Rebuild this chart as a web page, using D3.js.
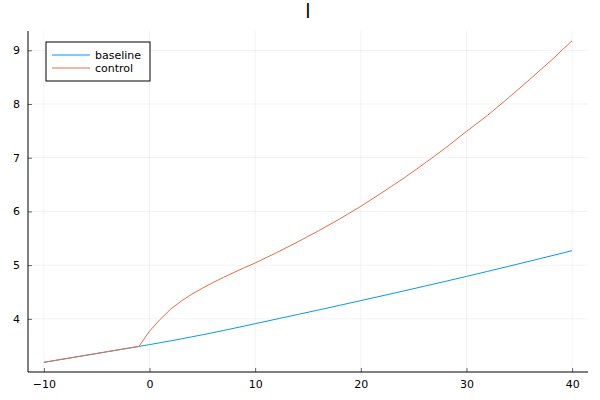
<!DOCTYPE html>
<html>
<head>
<meta charset="utf-8">
<script src="https://cdn.jsdelivr.net/npm/d3@7"></script>
<style>
  body { margin: 0; background: #fff; }
  svg text { font-family: "DejaVu Sans", sans-serif; fill: #000; }
</style>
</head>
<body>
<svg id="canvas" width="600" height="400"></svg>
<script>
// values
var xs = [-10, -8, -6, -4, -2, -1, 0, 1, 2, 3, 4, 5, 6, 7, 8, 9, 10, 12, 14, 16, 18, 20, 22, 24, 26, 28, 30, 32, 34, 36, 38, 40];
var baseline = [3.19, 3.256, 3.322, 3.388, 3.454, 3.487, 3.52, 3.555, 3.59, 3.627, 3.665, 3.703, 3.742, 3.783, 3.825, 3.867, 3.91, 3.995, 4.08, 4.165, 4.252, 4.34, 4.428, 4.517, 4.607, 4.698, 4.79, 4.884, 4.979, 5.075, 5.172, 5.27];
var control = [3.19, 3.256, 3.322, 3.388, 3.454, 3.487, 3.77, 3.99, 4.18, 4.33, 4.46, 4.57, 4.675, 4.772, 4.865, 4.953, 5.04, 5.23, 5.43, 5.64, 5.86, 6.095, 6.35, 6.61, 6.89, 7.18, 7.49, 7.79, 8.12, 8.46, 8.81, 9.18];
var xTicks = [-10, 0, 10, 20, 30, 40];
var yTicks = [4, 5, 6, 7, 8, 9];
var seriesNames = ["baseline", "control"];
var seriesColors = ["#009af9", "#e26f46"];
var title = "l";

var margin = {top: 31, right: 12, bottom: 28, left: 28};
var width = 600 - margin.left - margin.right;
var height = 400 - margin.top - margin.bottom;

var svg = d3.select("#canvas");
var g = svg.append("g")
    .attr("transform", "translate(" + margin.left + "," + margin.top + ")");

// Plots.jl style: pad the data range by 3% on each side
var xExt = d3.extent(xs);
var yExt = d3.extent(baseline.concat(control));
var xPad = (xExt[1] - xExt[0]) * 0.03;
var yPad = (yExt[1] - yExt[0]) * 0.03;

var x = d3.scaleLinear().domain([xExt[0] - xPad, xExt[1] + xPad]).range([0, width]);
var y = d3.scaleLinear().domain([yExt[0] - yPad, yExt[1] + yPad]).range([height, 0]);

// grid
g.selectAll(".vgrid").data(xTicks).enter().append("line")
    .attr("x1", function(d) { return x(d); }).attr("x2", function(d) { return x(d); })
    .attr("y1", 0).attr("y2", height)
    .attr("stroke", "#000").attr("stroke-opacity", 0.1).attr("stroke-width", 0.5);
g.selectAll(".hgrid").data(yTicks).enter().append("line")
    .attr("y1", function(d) { return y(d); }).attr("y2", function(d) { return y(d); })
    .attr("x1", 0).attr("x2", width)
    .attr("stroke", "#000").attr("stroke-opacity", 0.1).attr("stroke-width", 0.5);

// lines
var series = [baseline, control];
var line = d3.line()
    .x(function(d, i) { return x(xs[i]); })
    .y(function(d) { return y(d); });

series.forEach(function(s, k) {
  g.append("path")
    .datum(s)
    .attr("fill", "none")
    .attr("stroke", seriesColors[k])
    .attr("stroke-width", 1)
    .attr("d", line);
});

// axes (ticks point inward, like GR)
var xAxis = d3.axisBottom(x).tickValues(xTicks).tickSize(-4).tickPadding(8)
    .tickFormat(function(d) { return d < 0 ? "\u2212" + Math.abs(d) : d; });
var gx = g.append("g").attr("transform", "translate(0," + height + ")").call(xAxis);

var yAxis = d3.axisLeft(y).tickValues(yTicks).tickSize(-4).tickPadding(8)
    .tickFormat(d3.format("d"));
var gy = g.append("g").call(yAxis);

[gx, gy].forEach(function(a) {
  a.select(".domain").attr("stroke", "#000").attr("stroke-width", 1);
  a.selectAll(".tick line").attr("stroke", "#000").attr("stroke-width", 0.6);
  a.selectAll(".tick text").style("font-size", "11px").attr("fill", "#000");
});
gy.select(".domain").attr("d", "M0," + height + "V0");
gx.select(".domain").attr("d", "M0,0H" + width);

// title
svg.append("text")
    .attr("x", margin.left + width / 2)
    .attr("y", 18)
    .attr("text-anchor", "middle")
    .attr("fill", "#000")
    .style("font-size", "19px")
    .text(title);

// legend
var legend = g.append("g").attr("transform", "translate(18,11)");
legend.append("rect")
    .attr("width", 104).attr("height", 39)
    .attr("fill", "#fff").attr("stroke", "#000").attr("stroke-width", 1);
seriesNames.forEach(function(n, k) {
  var ly = 13 + k * 13;
  legend.append("line")
    .attr("x1", 6).attr("x2", 44).attr("y1", ly).attr("y2", ly)
    .attr("stroke", seriesColors[k]).attr("stroke-width", 1);
  legend.append("text")
    .attr("x", 49).attr("y", ly + 4)
    .style("font-size", "11px")
    .text(n);
});
</script>
</body>
</html>
